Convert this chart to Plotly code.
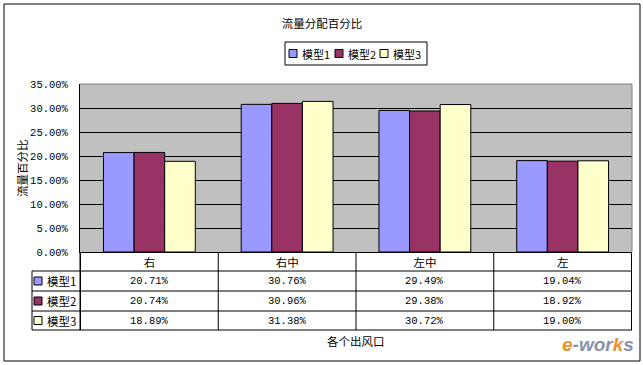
import plotly.graph_objects as go

# ---- data ----
categories = ["右", "右中", "左中", "左"]
series_names = ["模型1", "模型2", "模型3"]
model1 = [20.71, 30.76, 29.49, 19.04]
model2 = [20.74, 30.96, 29.38, 18.92]
model3 = [18.89, 31.38, 30.72, 19.00]
y_ticks = [0, 5, 10, 15, 20, 25, 30, 35]
y_tick_labels = ["0.00%", "5.00%", "10.00%", "15.00%", "20.00%", "25.00%", "30.00%", "35.00%"]
chart_title = "流量分配百分比"
y_title = "流量百分比"
x_title = "各个出风口"

colors = ["#9999FF", "#993366", "#FFFFCC"]
series_values = [model1, model2, model3]

W, H = 643, 365
L, R, T, B = 80, 632, 84, 252   # plot area in pixels
NUM_FONT = "Liberation Mono, Noto Sans CJK SC"
CJK_FONT = "Noto Sans CJK SC, Liberation Mono"
CJK_SIZE = 11.5


def px(x):
    return (x - L) / (R - L)


def py(y):
    return (B - y) / (B - T)


fig = go.Figure()
for name, vals, c in zip(series_names, series_values, colors):
    fig.add_bar(x=categories, y=vals, name=name,
                marker=dict(color=c, line=dict(color="black", width=1)),
                showlegend=False)

fig.update_layout(
    width=W, height=H,
    margin=dict(l=L, r=W - R, t=T, b=H - B, pad=0, autoexpand=False),
    paper_bgcolor="white", plot_bgcolor="#C0C0C0",
    barmode="group", bargap=1 / 3, bargroupgap=0,
    showlegend=False,
    font=dict(family=CJK_FONT, size=CJK_SIZE, color="black"),
    title=dict(text=chart_title, x=322 / W, y=1 - 24 / H, xanchor="center",
               yanchor="middle", xref="container", yref="container",
               font=dict(family=CJK_FONT, size=CJK_SIZE, color="black")),
)
fig.update_yaxes(range=[0, 35], tickmode="array", tickvals=y_ticks, ticktext=y_tick_labels,
                 showgrid=True, gridcolor="black", gridwidth=1,
                 showline=True, linecolor="black", linewidth=1,
                 ticks="", ticklabelstandoff=9, zeroline=False, automargin=False,
                 tickfont=dict(family=NUM_FONT, size=10.5, color="black"))
fig.update_xaxes(showline=True, linecolor="black", linewidth=1, ticks="",
                 showgrid=False, automargin=False,
                 tickfont=dict(family=CJK_FONT, size=CJK_SIZE, color="black"))

shapes = []
annotations = []


def line(x0, y0, x1, y1, color="black", width=1, xref="paper"):
    shapes.append(dict(type="line", xref=xref, yref="paper",
                       x0=x0 if xref != "paper" else px(x0), x1=x1 if xref != "paper" else px(x1),
                       y0=py(y0), y1=py(y1), line=dict(color=color, width=width)))


# plot area top / right border (gray)
line(L, T, R, T, color="#808080")
line(R, T, R, B, color="#808080")

# data table grid
row_lines = [271, 291, 311, 330]
for yy in row_lines:
    line(32, yy, R, yy)
line(32, 271, 32, 330)
line(L, B, L, 330)
n = len(categories)
for k in range(n + 1):
    line(k - 0.5, B, k - 0.5, 330, xref="x")

# data table cells
row_centers = [281, 301, 320.5]
for vals, yc in zip(series_values, row_centers):
    for cat, v in zip(categories, vals):
        annotations.append(dict(x=cat, y=py(yc), xref="x", yref="paper",
                                text=f"{v:.2f}%", showarrow=False,
                                xanchor="center", yanchor="middle",
                                font=dict(family=NUM_FONT, size=10.5, color="black")))

# row labels with swatches
for name, c, yc in zip(series_names, colors, row_centers):
    shapes.append(dict(type="rect", xref="paper", yref="paper",
                       x0=px(34), x1=px(42), y0=py(yc - 4), y1=py(yc + 4),
                       fillcolor=c, line=dict(color="black", width=1)))
    annotations.append(dict(x=px(45), y=py(yc), xref="paper", yref="paper",
                            text=name, showarrow=False, xanchor="left", yanchor="middle",
                            font=dict(family=CJK_FONT, size=CJK_SIZE, color="black")))

# legend
shapes.append(dict(type="rect", xref="paper", yref="paper",
                   x0=px(285), x1=px(427), y0=py(42), y1=py(65),
                   fillcolor="white", line=dict(color="black", width=1)))
leg_x = [289, 335, 380]
for name, c, xs in zip(series_names, colors, leg_x):
    shapes.append(dict(type="rect", xref="paper", yref="paper",
                       x0=px(xs), x1=px(xs + 8), y0=py(49.5), y1=py(57.5),
                       fillcolor=c, line=dict(color="black", width=1)))
    annotations.append(dict(x=px(xs + 11), y=py(53.5), xref="paper", yref="paper",
                            text=name, showarrow=False, xanchor="left", yanchor="middle",
                            font=dict(family=CJK_FONT, size=11, color="black")))

# axis titles
annotations.append(dict(x=px(22), y=py(168), xref="paper", yref="paper",
                        text=y_title, textangle=-90, showarrow=False,
                        xanchor="center", yanchor="middle",
                        font=dict(family=CJK_FONT, size=CJK_SIZE, color="black")))
annotations.append(dict(x=px(356), y=py(341), xref="paper", yref="paper",
                        text=x_title, showarrow=False,
                        xanchor="center", yanchor="middle",
                        font=dict(family=CJK_FONT, size=CJK_SIZE, color="black")))

# watermark
annotations.append(dict(x=px(636), y=py(344), xref="paper", yref="paper",
                        text="<i><b><span style='color:#E8912E'>e</span>"
                             "<span style='color:#8A90A8'>-wor</span>"
                             "<span style='color:#E8912E'>k</span>"
                             "<span style='color:#8A90A8'>s</span></b></i>",
                        showarrow=False, xanchor="right", yanchor="middle",
                        font=dict(family="Liberation Sans", size=19)))

# outer border
shapes.append(dict(type="rect", xref="paper", yref="paper",
                   x0=px(4), x1=px(640), y0=py(4), y1=py(361),
                   fillcolor="rgba(0,0,0,0)", line=dict(color="black", width=1)))

fig.update_layout(shapes=shapes, annotations=annotations)
fig.write_html("out.html", config={"displayModeBar": False},
               post_script="document.body.style.margin='0';")
